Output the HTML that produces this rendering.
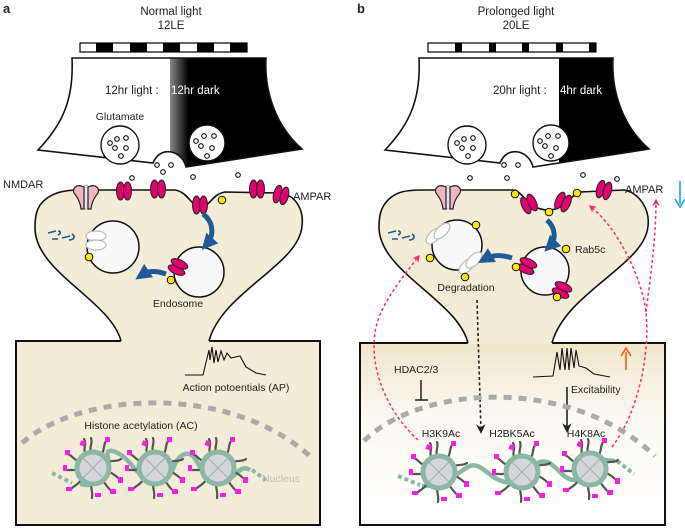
<!DOCTYPE html>
<html><head><meta charset="utf-8"><style>
html,body{margin:0;padding:0;background:#fff}
svg{display:block}
text{font-family:"Liberation Sans",Arial,sans-serif;fill:#222}
</style></head><body>
<svg width="685" height="528" viewBox="0 0 685 528" xmlns="http://www.w3.org/2000/svg">
<defs>
<linearGradient id="ga" gradientUnits="userSpaceOnUse" x1="0" y1="0" x2="685" y2="0">
<stop offset="0.2480" stop-color="#fff"/><stop offset="0.2481" stop-color="#888"/><stop offset="0.275" stop-color="#000"/>
</linearGradient>
<linearGradient id="gb" gradientUnits="userSpaceOnUse" x1="0" y1="0" x2="685" y2="0">
<stop offset="0.8160" stop-color="#fff"/><stop offset="0.8161" stop-color="#000"/>
</linearGradient>
<linearGradient id="boxb" x1="0" y1="0" x2="0" y2="1">
<stop offset="0" stop-color="#efe6c9"/><stop offset="0.4" stop-color="#fbf9f2"/><stop offset="1" stop-color="#fff"/>
</linearGradient>
<symbol id="nuc" viewBox="-30 -30 60 60" width="60" height="60" overflow="visible">
<g stroke="#555" stroke-width="2.2" fill="none" stroke-linecap="round">
<path d="M-8,-15 C-10,-20 -6,-24 -9,-29"/><path d="M-2,-16 C-4,-22 0,-24 -2,-30"/>
<path d="M9,-14 C12,-20 10,-24 14,-28"/><path d="M15,-6 C20,-8 24,-6 28,-9"/>
<path d="M-15,-7 C-20,-9 -22,-14 -26,-14"/><path d="M-16,2 L-29,2"/>
<path d="M-12,12 C-16,18 -20,18 -23,22"/><path d="M-2,16 C-2,22 0,24 -1,30"/>
<path d="M10,13 C14,18 16,22 20,24"/><path d="M16,4 C22,6 24,10 28,12"/>
</g>
<g fill="#ff1ee6">
<rect x="-13" y="-27" width="5" height="5" transform="rotate(20 -10 -24)"/>
<rect x="12" y="-31" width="5" height="5"/>
<rect x="-28" y="-18" width="5" height="5"/>
<rect x="-30" y="-3" width="4" height="6"/>
<rect x="-27" y="19" width="6" height="4"/>
<rect x="17" y="21" width="6" height="5"/>
<rect x="25" y="9" width="5" height="6"/>
<rect x="2" y="25" width="6" height="4"/>
</g>
<circle r="16" fill="#d4d6d9" stroke="#8bb7a6" stroke-width="5"/>
<path d="M-11,-11 L11,11 M-11,11 L11,-11" stroke="#aaa" stroke-width="1"/>
</symbol>
<symbol id="amp" viewBox="-10 -12 20 24" width="20" height="24" overflow="visible">
<ellipse cx="-3.5" cy="0" rx="4" ry="9" fill="#e0006f" stroke="#222" stroke-width="1"/>
<ellipse cx="3.5" cy="0" rx="4" ry="9" fill="#e0006f" stroke="#222" stroke-width="1"/>
</symbol>
<symbol id="nmda" viewBox="-14 -14 28 28" width="28" height="28" overflow="visible">
<ellipse cx="0" cy="0" rx="5" ry="12" fill="#dde6f5" stroke="#aac" stroke-width="0.8"/>
<path d="M-2,-10 C-10,-14 -14,-8 -12,-4 C-9,0 -6,4 -5,12 L-2,12 Z" fill="#f5b5bf" stroke="#222" stroke-width="1.2"/>
<path d="M2,-10 C10,-14 14,-8 12,-4 C9,0 6,4 5,12 L2,12 Z" fill="#f5b5bf" stroke="#222" stroke-width="1.2"/>
</symbol>
<marker id="ah" viewBox="0 0 10 10" refX="8" refY="5" markerWidth="5" markerHeight="5" orient="auto"><path d="M0,0 L10,5 L0,10 L3,5Z" fill="#ff2a6a"/></marker>
<marker id="ak" viewBox="0 0 10 10" refX="8" refY="5" markerWidth="6" markerHeight="6" orient="auto"><path d="M0,0 L10,5 L0,10 L3,5Z" fill="#222"/></marker>
<marker id="ab" viewBox="0 0 10 10" refX="5" refY="5" markerWidth="3.2" markerHeight="3.2" orient="auto"><path d="M0,0 L10,5 L0,10Z" fill="#1d5b98"/></marker>
</defs>

<!-- ============ PANEL A ============ -->
<text x="3" y="13" font-size="13" font-weight="bold" fill="#000">a</text>
<text x="171" y="15" font-size="11.5" text-anchor="middle">Normal light</text>
<text x="171" y="29" font-size="11.5" text-anchor="middle">12LE</text>
<rect x="80" y="43" width="167" height="9" fill="#fff" stroke="#000" stroke-width="1.2"/>
<g fill="#000"><rect x="96" y="43" width="17" height="9"/><rect x="130" y="43" width="17" height="9"/><rect x="163" y="43" width="17" height="9"/><rect x="197" y="43" width="17" height="9"/><rect x="230" y="43" width="17" height="9"/></g>

<rect x="16" y="341" width="304" height="184" fill="#f3ecd6" stroke="#111" stroke-width="2"/>
<path d="M40,205 C50,192 65,190 80,190 L175,190 C188,192 192,207 200,207 C210,207 212,194 225,192 L280,193 C296,195 304,210 302,226 C299,265 222,292 209,342 L121,342 C110,300 35,272 35,228 C35,215 37,210 40,205Z" fill="#f3ecd6"/>
<path d="M209,341 C222,292 299,265 302,226 C304,210 296,195 280,193 L225,192 C212,194 210,207 200,207 C192,207 188,192 175,190 L80,190 C65,190 50,192 40,205 C37,210 35,215 35,228 C35,272 110,300 121,341" fill="none" stroke="#111" stroke-width="1.6"/>
<path d="M72,58 L266,58 C264,95 278,128 302,149 L186,167 C182,150 160,145 153,163 L38,150 C62,125 74,100 72,58Z" fill="url(#ga)" stroke="#111" stroke-width="1.6"/>
<text x="105" y="94" font-size="11.5" fill="#222">12hr light :</text>
<text x="171" y="94" font-size="11.5" style="fill:#fff">12hr dark</text>
<text x="120" y="120" font-size="10.5" text-anchor="middle">Glutamate</text>
<circle cx="120" cy="145" r="19" fill="#fff" stroke="#111" stroke-width="1.4"/>
<circle cx="207" cy="143" r="18" fill="#fff" stroke="#111" stroke-width="1.4"/>
<g fill="#fff" stroke="#111" stroke-width="1.1">
<circle cx="110" cy="143" r="2.3"/><circle cx="117" cy="139" r="2.3"/><circle cx="126" cy="138" r="2.3"/><circle cx="115" cy="148" r="2.3"/><circle cx="126" cy="148" r="2.3"/><circle cx="121" cy="156" r="2.3"/>
<circle cx="196" cy="141" r="2.3"/><circle cx="204" cy="136" r="2.3"/><circle cx="214" cy="136" r="2.3"/><circle cx="201" cy="146" r="2.3"/><circle cx="212" cy="148" r="2.3"/><circle cx="207" cy="156" r="2.3"/>
<circle cx="157" cy="165" r="2.3"/><circle cx="171" cy="165" r="2.3"/><circle cx="163" cy="172" r="2.3"/>
<circle cx="132" cy="178" r="2.3"/><circle cx="193" cy="177" r="2.3"/><circle cx="238" cy="175" r="2.3"/>
</g>
<text x="3" y="188" font-size="11">NMDAR</text>
<use href="#nmda" x="72" y="183"/>
<use href="#amp" x="114" y="179"/>
<use href="#amp" x="148" y="177"/>
<use href="#amp" x="190" y="193"/>
<use href="#amp" x="247" y="177"/>
<use href="#amp" x="271" y="183" transform="rotate(15 281 195)"/>
<text x="293" y="200" font-size="11">AMPAR</text>
<circle cx="222" cy="200" r="3.8" fill="#ffe600" stroke="#111" stroke-width="1"/>
<path d="M48,233 l8,-2 M58,231 c3,0 3,3 0,4 M52,239 l6,0 M62,238 l8,-2 M72,234 c4,2 2,6 -3,6" stroke="#1d5b98" stroke-width="1.6" fill="none"/>
<circle cx="113" cy="247" r="26" fill="#f8f8f8" stroke="#111" stroke-width="1.5"/>
<ellipse cx="96" cy="236" rx="10" ry="5" fill="#fff" stroke="#bbb" stroke-width="1.2"/>
<ellipse cx="96" cy="245" rx="10" ry="5" fill="#fff" stroke="#bbb" stroke-width="1.2"/>
<circle cx="89" cy="257" r="3.8" fill="#ffe600" stroke="#111" stroke-width="1"/>
<circle cx="199" cy="272" r="25" fill="#f8f8f8" stroke="#111" stroke-width="1.5"/>
<use href="#amp" x="168" y="255" transform="rotate(-65 178 267)"/>
<circle cx="171" cy="280" r="3.8" fill="#ffe600" stroke="#111" stroke-width="1"/>
<path d="M203,214 C214,222 214,236 207,244" stroke="#1d5b98" stroke-width="5" fill="none" marker-end="url(#ab)"/>
<path d="M166,274 C155,270 148,271 142,275" stroke="#1d5b98" stroke-width="5" fill="none" marker-end="url(#ab)"/>
<text x="178" y="307" font-size="10.5" text-anchor="middle">Endosome</text>
<path d="M185,375 L203,375 L209,350 L210,360 L212,347 L214,363 L216,350 L218,362 L221,351 L224,360 L227,353 L231,358 L240,356 L246,367 L256,373 L266,375" fill="none" stroke="#111" stroke-width="1.1"/>
<text x="236" y="391" font-size="10.5" text-anchor="middle">Action potoentials (AP)</text>
<path d="M22,443 C80,392 230,382 312,458" fill="none" stroke="#aaa" stroke-width="5" stroke-dasharray="8,7"/>
<text x="141" y="429" font-size="10.5" text-anchor="middle">Histone acetylation (AC)</text>
<path d="M80,484 C100,490 112,470 108,458 C104,446 118,450 130,463 C142,478 150,484 160,482 C175,478 172,458 185,454 C198,450 200,480 216,484 C232,486 238,462 250,470" fill="none" stroke="#8bb7a6" stroke-width="4.5"/>
<path d="M52,473 L72,483 M252,470 L266,480" stroke="#8bb7a6" stroke-width="4" stroke-dasharray="4,3"/>
<use href="#nuc" x="63" y="438"/>
<use href="#nuc" x="125" y="438"/>
<use href="#nuc" x="188" y="438"/>
<text x="281" y="482" font-size="10.5" text-anchor="middle" style="fill:#bbb">Nucleus</text>

<!-- ============ PANEL B ============ -->
<text x="357" y="13" font-size="13" font-weight="bold" fill="#000">b</text>
<text x="516" y="15" font-size="11.5" text-anchor="middle">Prolonged light</text>
<text x="516" y="29" font-size="11.5" text-anchor="middle">20LE</text>
<rect x="428" y="43" width="168" height="9" fill="#fff" stroke="#000" stroke-width="1.2"/>
<g fill="#000"><rect x="455" y="43" width="7" height="9"/><rect x="489" y="43" width="7" height="9"/><rect x="522" y="43" width="7" height="9"/><rect x="556" y="43" width="7" height="9"/><rect x="589" y="43" width="7" height="9"/></g>

<rect x="360" y="343" width="305" height="182" fill="url(#boxb)" stroke="#111" stroke-width="2"/>
<path d="M384,205 C394,192 409,190 424,190 L515,190 C525,195 530,210 548,210 C565,210 570,195 580,192 L624,190 C640,193 650,210 648,226 C645,265 566,292 552,344 L468,344 C457,300 380,272 379,228 C379,215 381,210 384,205Z" fill="#f3ecd6"/>
<path d="M552,343 C566,292 645,265 648,226 C650,210 640,193 624,190 L580,192 C570,195 565,210 548,210 C530,210 525,195 515,190 L424,190 C409,190 394,190 384,205 C381,210 379,215 379,228 C380,272 457,300 468,343" fill="none" stroke="#111" stroke-width="1.6"/>
<path d="M419,58 L613,58 C611,95 625,128 649,149 L533,167 C529,150 507,145 500,163 L385,150 C409,125 421,100 419,58Z" fill="url(#gb)" stroke="#111" stroke-width="1.6"/>
<text x="493" y="94" font-size="11.5" fill="#222">20hr light :</text>
<text x="560" y="94" font-size="11.5" style="fill:#fff">4hr dark</text>
<circle cx="467" cy="145" r="19" fill="#fff" stroke="#111" stroke-width="1.4"/>
<circle cx="551" cy="143" r="18" fill="#fff" stroke="#111" stroke-width="1.4"/>
<g fill="#fff" stroke="#111" stroke-width="1.1">
<circle cx="457" cy="143" r="2.3"/><circle cx="464" cy="139" r="2.3"/><circle cx="473" cy="138" r="2.3"/><circle cx="462" cy="148" r="2.3"/><circle cx="473" cy="148" r="2.3"/><circle cx="468" cy="156" r="2.3"/>
<circle cx="540" cy="141" r="2.3"/><circle cx="548" cy="136" r="2.3"/><circle cx="558" cy="136" r="2.3"/><circle cx="545" cy="146" r="2.3"/><circle cx="556" cy="148" r="2.3"/><circle cx="551" cy="156" r="2.3"/>
<circle cx="504" cy="165" r="2.3"/><circle cx="518" cy="165" r="2.3"/><circle cx="507" cy="178" r="2.3"/>
<circle cx="470" cy="178" r="2.3"/><circle cx="583" cy="175" r="2.3"/><circle cx="617" cy="179" r="2.3"/>
</g>
<use href="#nmda" x="434" y="183"/>
<use href="#amp" x="519" y="192" transform="rotate(-25 529 204)"/>
<use href="#amp" x="553" y="190" transform="rotate(25 563 202)"/>
<use href="#amp" x="594" y="178" transform="rotate(15 604 190)"/>
<g fill="#ffe600" stroke="#111" stroke-width="1">
<circle cx="515" cy="194" r="3.8"/><circle cx="549" cy="212" r="3.8"/><circle cx="577" cy="193" r="3.8"/>
</g>
<text x="625" y="193" font-size="11">AMPAR</text>
<path d="M680,181 L680,204" stroke="#1aa3e8" stroke-width="1.6"/>
<path d="M675,199 L680,207 L685,199" stroke="#1aa3e8" stroke-width="1.6" fill="none"/>
<path d="M388,233 l8,-2 M398,231 c3,0 3,3 0,4 M392,239 l6,0 M402,238 l8,-2 M412,234 c4,2 2,6 -3,6" stroke="#1d5b98" stroke-width="1.6" fill="none"/>
<circle cx="457" cy="245" r="25" fill="#f8f8f8" stroke="#111" stroke-width="1.5"/>
<ellipse cx="434" cy="236" rx="5" ry="10" fill="#fff" stroke="#bbb" stroke-width="1.2" transform="rotate(45 434 236)"/>
<ellipse cx="442" cy="231" rx="5" ry="10" fill="#fff" stroke="#bbb" stroke-width="1.2" transform="rotate(45 442 231)"/>
<ellipse cx="467" cy="266" rx="5" ry="10" fill="#fff" stroke="#bbb" stroke-width="1.2" transform="rotate(45 467 266)"/>
<ellipse cx="474" cy="260" rx="5" ry="10" fill="#fff" stroke="#bbb" stroke-width="1.2" transform="rotate(45 474 260)"/>
<circle cx="545" cy="271" r="24" fill="#f8f8f8" stroke="#111" stroke-width="1.5"/>
<use href="#amp" x="517" y="254" transform="rotate(-65 527 266)"/>
<use href="#amp" x="552" y="278" transform="rotate(-65 562 290)"/>
<g fill="#ffe600" stroke="#111" stroke-width="1">
<circle cx="476" cy="225" r="3.8"/><circle cx="430" cy="258" r="3.8"/><circle cx="465" cy="277" r="3.8"/>
<circle cx="566" cy="249" r="3.8"/><circle cx="516" cy="267" r="3.8"/><circle cx="557" cy="297" r="3.8"/>
</g>
<path d="M547,220 C556,228 556,240 550,246" stroke="#1d5b98" stroke-width="5" fill="none" marker-end="url(#ab)"/>
<path d="M512,258 C500,254 492,255 485,259" stroke="#1d5b98" stroke-width="5" fill="none" marker-end="url(#ab)"/>
<text x="575" y="253" font-size="10.5">Rab5c</text>
<text x="466" y="291" font-size="10.5" text-anchor="middle">Degradation</text>
<g stroke="#ff2a6a" stroke-width="1.5" fill="none" stroke-dasharray="3,2.5">
<path d="M418,440 C385,410 365,360 378,320 C385,300 400,280 419,256" marker-end="url(#ah)"/>
<path d="M612,447 C640,410 650,350 646,312 C642,280 620,230 590,206" marker-end="url(#ah)"/>
<path d="M646,312 C650,280 656,240 656,200" marker-end="url(#ah)"/>
</g>
<path d="M477,300 L481,432" stroke="#222" stroke-width="1.6" stroke-dasharray="3,2.5" fill="none" marker-end="url(#ak)"/>
<path d="M567,387 L567,431" stroke="#222" stroke-width="1.6" fill="none" marker-end="url(#ak)"/>
<text x="394" y="373" font-size="10.5">HDAC2/3</text>
<path d="M421,380 L421,400 M415,400 L428,400" stroke="#222" stroke-width="1.5"/>
<path d="M533,377 L553,376 L557,352 L560,370 L562,348 L565,370 L567,348 L569,370 L571,348 L574,368 L576,350 L579,366 L586,368 L594,374 L610,377" fill="none" stroke="#111" stroke-width="1.1"/>
<text x="571" y="393" font-size="10.5">Excitability</text>
<path d="M626,370 L626,352" stroke="#ff5520" stroke-width="1.6"/>
<path d="M621,356 L626,348 L631,356" stroke="#ff5520" stroke-width="1.6" fill="none"/>
<path d="M364,441 C420,385 570,375 655,456" fill="none" stroke="#aaa" stroke-width="5" stroke-dasharray="8,7"/>
<text x="441" y="437" font-size="10.5" text-anchor="middle">H3K9Ac</text>
<text x="512" y="437" font-size="10.5" text-anchor="middle">H2BK5Ac</text>
<text x="586" y="437" font-size="10.5" text-anchor="middle">H4K8Ac</text>
<path d="M422,486 C448,486 460,470 470,466 C482,462 488,478 505,482 C520,485 528,466 540,462 C555,458 560,480 575,480 C590,480 595,462 605,460 L615,461" fill="none" stroke="#8bb7a6" stroke-width="4.5"/>
<path d="M398,476 L420,485 M617,461 L634,474" stroke="#8bb7a6" stroke-width="4" stroke-dasharray="4,3"/>
<use href="#nuc" x="409" y="442"/>
<use href="#nuc" x="492" y="442"/>
<use href="#nuc" x="560" y="439"/>
</svg>
</body></html>
